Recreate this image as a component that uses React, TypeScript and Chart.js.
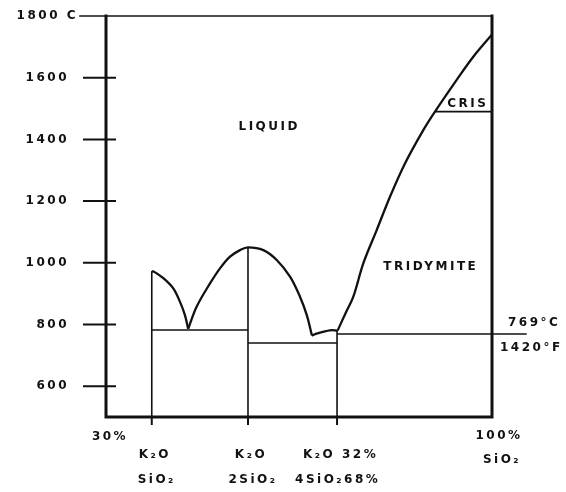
import { useEffect, useRef } from "react";
import { Chart, registerables } from "chart.js";

Chart.register(...registerables);

// Axis ranges: wt % SiO2 across, temperature (°C) up
const X_MIN = 30;
const X_MAX = 100;
const T_MIN = 500;
const T_MAX = 1800;

// Temperature ticks on the left
const yTicks = [600, 800, 1000, 1200, 1400, 1600, 1800];
const yTickLabels = ["600", "800", "1000", "1200", "1400", "1600", "1800 C"];

// Compounds: composition (wt % SiO2) and upper end of their line (°C)
const compoundX = [38.3, 55.75, 71.9];
const compoundTop = [973, 1050, 780];
const compoundLabelTop = ["K₂O", "K₂O", "K₂O 32%"];
const compoundLabelBottom = ["SiO₂", "2SiO₂", "4SiO₂68%"];

// Liquidus branches [wt % SiO2, °C]
const metasilicateLiquidus: [number, number][] = [
  [38.3, 973], [38.7, 971], [40.4, 950], [42.2, 917], [43.4, 874], [44.3, 831], [44.9, 786],
];
const disilicateLiquidus: [number, number][] = [
  [44.9, 786], [46.45, 858], [48.86, 933], [50.67, 982], [52.49, 1020], [54.3, 1041],
  [55.75, 1050], [58.53, 1041], [60.96, 1009], [63.37, 955], [65.18, 890], [66.4, 831],
  [67.35, 764],
];
const tetrasilicateLiquidus: [number, number][] = [
  [67.35, 764], [68.3, 771], [70.6, 781], [72.0, 780],
];
const silicaLiquidus: [number, number][] = [
  [72.0, 780], [73.4, 835], [74.85, 890], [76.66, 998], [79.09, 1106], [81.5, 1214],
  [84.22, 1322], [87.54, 1430], [89.66, 1490], [93.6, 1593], [96.61, 1668], [100, 1740],
];

// Solidus / transition lines
const eutecticMeta: [number, number][] = [[38.3, 782], [55.75, 782]];
const eutecticTetra: [number, number][] = [[55.75, 740], [71.9, 740]];
const tridymiteLine: [number, number][] = [[71.9, 769], [106.3, 769]];
const cristobaliteLine: [number, number][] = [[89.66, 1490], [100, 1490]];

// Field labels [text, wt % SiO2, °C]
const fieldLabels: [string, number, number][] = [
  ["LIQUID", 59.6, 1440],
  ["TRIDYMITE", 88.9, 986],
  ["CRIS", 95.6, 1514],
];
const transitionLabels = ["769°C", "1420°F"];

const INK = "#111111";
const LABEL_FONT = "bold 12px 'DejaVu Sans', sans-serif";

const toPts = (arr: [number, number][]) => arr.map(([x, y]) => ({ x, y }));

const diagramPlugin = {
  id: "phaseDiagram",
  afterDatasetsDraw(chart: any) {
    const { ctx, chartArea, scales } = chart;
    const xs = scales.x;
    const ys = scales.y;
    const { left, right, top, bottom } = chartArea;
    ctx.save();
    ctx.strokeStyle = INK;
    ctx.lineCap = "square";

    // frame
    ctx.lineWidth = 1.6;
    ctx.beginPath();
    ctx.moveTo(left - 26, top);
    ctx.lineTo(right, top);
    ctx.stroke();
    ctx.lineWidth = 3;
    ctx.beginPath();
    ctx.moveTo(left, top);
    ctx.lineTo(left, bottom);
    ctx.lineTo(right, bottom);
    ctx.lineTo(right, top);
    ctx.stroke();

    // temperature ticks crossing the left axis
    ctx.lineWidth = 2;
    yTicks.forEach((t) => {
      if (t === T_MAX) return;
      const py = ys.getPixelForValue(t);
      ctx.beginPath();
      ctx.moveTo(left - 22, py);
      ctx.lineTo(left + 9, py);
      ctx.stroke();
    });

    // composition ticks below the base
    compoundX.forEach((c) => {
      const px = xs.getPixelForValue(c);
      ctx.beginPath();
      ctx.moveTo(px, bottom);
      ctx.lineTo(px, bottom + 7);
      ctx.stroke();
    });

    // text
    ctx.fillStyle = INK;
    ctx.font = LABEL_FONT;
    (ctx as any).letterSpacing = "2.5px";
    ctx.textBaseline = "middle";

    ctx.textAlign = "right";
    yTicks.forEach((t, i) => {
      const py = ys.getPixelForValue(t);
      ctx.fillText(yTickLabels[i], left - (t === T_MAX ? 28 : 37), py);
    });

    ctx.textAlign = "center";
    ctx.fillText("30%", xs.getPixelForValue(X_MIN) + 4, bottom + 20);
    ctx.fillText("100%", xs.getPixelForValue(X_MAX) + 7, bottom + 19);
    ctx.fillText("SiO₂", xs.getPixelForValue(X_MAX) + 10, bottom + 43);

    compoundX.forEach((c, i) => {
      const px = xs.getPixelForValue(c);
      if (i === 2) {
        ctx.textAlign = "left";
        ctx.fillText(compoundLabelTop[i], px - 34, bottom + 38);
        ctx.fillText(compoundLabelBottom[i], px - 42, bottom + 63);
      } else {
        ctx.textAlign = "center";
        ctx.fillText(compoundLabelTop[i], px + 3, bottom + 38);
        ctx.fillText(compoundLabelBottom[i], px + 5, bottom + 63);
      }
    });

    ctx.textAlign = "center";
    fieldLabels.forEach(([label, x, t]) => {
      ctx.fillText(label, xs.getPixelForValue(x), ys.getPixelForValue(t));
    });

    ctx.textAlign = "left";
    const ty = ys.getPixelForValue(769);
    ctx.fillText(transitionLabels[0], right + 16, ty - 11);
    ctx.fillText(transitionLabels[1], right + 8, ty + 14);

    ctx.restore();
  },
};

export default function App() {
  const canvasRef = useRef<HTMLCanvasElement | null>(null);

  useEffect(() => {
    const canvas = canvasRef.current;
    if (!canvas) return;

    const line = (data: [number, number][], width: number, smooth: boolean, clip = true) => ({
      data: toPts(data),
      showLine: true,
      borderColor: INK,
      borderWidth: width,
      borderJoinStyle: "round" as const,
      pointRadius: 0,
      fill: false,
      tension: smooth ? 0.35 : 0,
      clip: clip ? undefined : false,
    });

    const verticals = compoundX.map((c, i) =>
      line([[c, T_MIN], [c, compoundTop[i]]], 1.6, false)
    );

    const chart = new Chart(canvas, {
      type: "scatter",
      data: {
        datasets: [
          line(metasilicateLiquidus, 2.3, true),
          line(disilicateLiquidus, 2.3, true),
          line(tetrasilicateLiquidus, 2.3, true),
          line(silicaLiquidus, 2.3, true),
          line(eutecticMeta, 1.6, false),
          line(eutecticTetra, 1.6, false),
          line(tridymiteLine, 1.6, false, false),
          line(cristobaliteLine, 1.6, false),
          ...verticals,
        ] as any,
      },
      options: {
        animation: false,
        responsive: false,
        events: [],
        layout: { padding: { left: 106, right: 74, top: 16, bottom: 75 } },
        scales: {
          x: { type: "linear", min: X_MIN, max: X_MAX, display: false },
          y: { type: "linear", min: T_MIN, max: T_MAX, display: false },
        },
        plugins: { legend: { display: false }, tooltip: { enabled: false } },
      },
      plugins: [diagramPlugin],
    });

    return () => chart.destroy();
  }, []);

  return (
    <div style={{ position: "fixed", left: 0, top: 0, width: 566, height: 492, background: "#fff" }}>
      <canvas ref={canvasRef} width={566} height={492} />
    </div>
  );
}
